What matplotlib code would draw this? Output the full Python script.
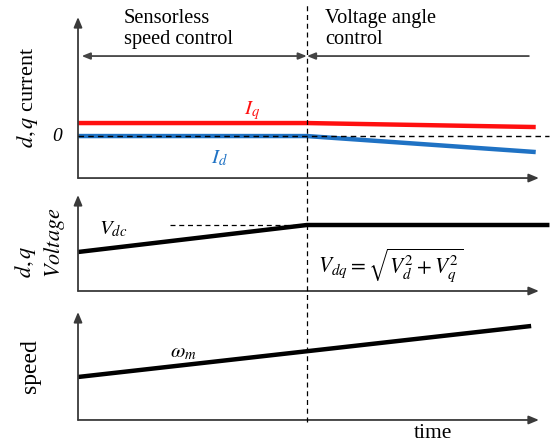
import matplotlib.pyplot as plt
import matplotlib.transforms as mtransforms
from matplotlib.lines import Line2D
import numpy as np

plt.rcParams['font.family'] = 'Liberation Serif'
plt.rcParams['mathtext.fontset'] = 'stix'

# time axis (arbitrary units), switch between control modes
t_switch = 5.0
t_max = 10.07

# d,q currents
t_cur = [0, 5.0, 10.0]
iq = [13, 13, 9]
id_ = [0, 0, -16]
t_zero = [0, 10.3]

# d,q voltage
t_volt = [0, 5.0, 10.3]
v_dq = [39, 66, 66]
t_vdc = [2.0, 5.0]
v_dc = [66, 66]

# speed
t_spd = [0, 9.9]
w_m = [43, 94]

axis_col = '#3a3a3a'

fig = plt.figure(figsize=(5.54, 4.44), dpi=100)
ax1 = fig.add_axes([0.1408, 0.599, 0.832, 0.3626])
ax2 = fig.add_axes([0.1408, 0.3446, 0.832, 0.2162])
ax3 = fig.add_axes([0.1408, 0.0541, 0.832, 0.2432])

for ax in (ax1, ax2, ax3):
    for s in ax.spines.values():
        s.set_visible(False)
    ax.set_xticks([])
    ax.set_yticks([])
    ax.set_xlim(0, t_max)
    ax.patch.set_alpha(0)
    # axis arrows
    ax.annotate('', xy=(0, 1), xytext=(0, 0), xycoords='axes fraction',
                arrowprops=dict(arrowstyle='-|>,head_length=0.6,head_width=0.25',
                                color=axis_col, lw=1.3, shrinkA=0, shrinkB=0))
    ax.annotate('', xy=(1, 0), xytext=(0, 0), xycoords='axes fraction',
                arrowprops=dict(arrowstyle='-|>,head_length=0.6,head_width=0.25',
                                color=axis_col, lw=1.3, shrinkA=0, shrinkB=0))

# panel 1: currents
ax1.set_ylim(-42, 119)
ax1.plot(t_zero, [0, 0], color='black', lw=1, ls=(0, (4, 3)), clip_on=False, zorder=3)
ax1.plot(t_cur, iq, color='#ff1010', lw=3.2, solid_capstyle='butt')
ax1.plot(t_cur, id_, color='#1f72c4', lw=3.2, solid_capstyle='butt')
ax1.text(3.8, 14, '$I_q$', color='#ff1010', fontsize=15, ha='center', va='bottom')
ax1.text(3.1, -13, '$I_d$', color='#1f72c4', fontsize=15, ha='center', va='top')
ax1.text(-0.45, 0, '0', fontsize=14, style='italic', ha='center', va='center')
ax1.text(-0.11, 0.5, '$d,q$ current', rotation=90, fontsize=16,
         ha='center', va='center', transform=ax1.transAxes)

# mode arrows
ax1.annotate('', xy=(0.08, 80), xytext=(t_switch, 80),
             arrowprops=dict(arrowstyle='<|-|>,head_length=0.5,head_width=0.2',
                             color='#444444', lw=1.3, shrinkA=0, shrinkB=0))
ax1.annotate('', xy=(t_switch, 80), xytext=(9.85, 80),
             arrowprops=dict(arrowstyle='-|>,head_length=0.5,head_width=0.2',
                             color='#444444', lw=1.3, shrinkA=0, shrinkB=0))
ax1.text(1.0, 127, 'Sensorless\nspeed control', fontsize=14.7, ha='left', va='top',
         linespacing=1.12)
ax1.text(5.4, 127, 'Voltage angle\ncontrol', fontsize=14.7, ha='left', va='top',
         linespacing=1.12)

# panel 2: voltage
ax2.set_ylim(0, 96)
ax2.plot(t_vdc, v_dc, color='black', lw=0.9, ls=(0, (4, 3)))
ax2.plot(t_volt, v_dq, color='black', lw=3.2, clip_on=False, solid_capstyle='butt')
ax2.text(0.45, 62, '$V_{dc}$', fontsize=15, ha='left', va='center')
ax2.text(5.24, 26, r'$V_{dq}=\sqrt{V_d^2+V_q^2}$', fontsize=15.5, ha='left', va='center')
ax2.text(-0.082, 0.5, '$d,q$\n$Voltage$', rotation=90, fontsize=16, multialignment='left',
         linespacing=1.25, ha='center', va='center', transform=ax2.transAxes)

# panel 3: speed
ax3.set_ylim(0, 108)
ax3.plot(t_spd, w_m, color='black', lw=3.2, solid_capstyle='butt')
ax3.text(2.3, 67, r'$\omega_m$', fontsize=15, ha='center', va='center')
ax3.text(-0.102, 0.5, 'speed', rotation=90, fontsize=17,
         ha='center', va='center', transform=ax3.transAxes)
ax3.text(7.75, -4, 'time', fontsize=15.5, ha='center', va='top')

# mode switch line across all panels
tr = mtransforms.blended_transform_factory(ax3.transData, fig.transFigure)
fig.add_artist(Line2D([t_switch, t_switch], [0.0495, 0.989], transform=tr,
                      color='black', lw=0.9, ls=(0, (4, 3))))

fig.savefig('out.png', dpi=100)
